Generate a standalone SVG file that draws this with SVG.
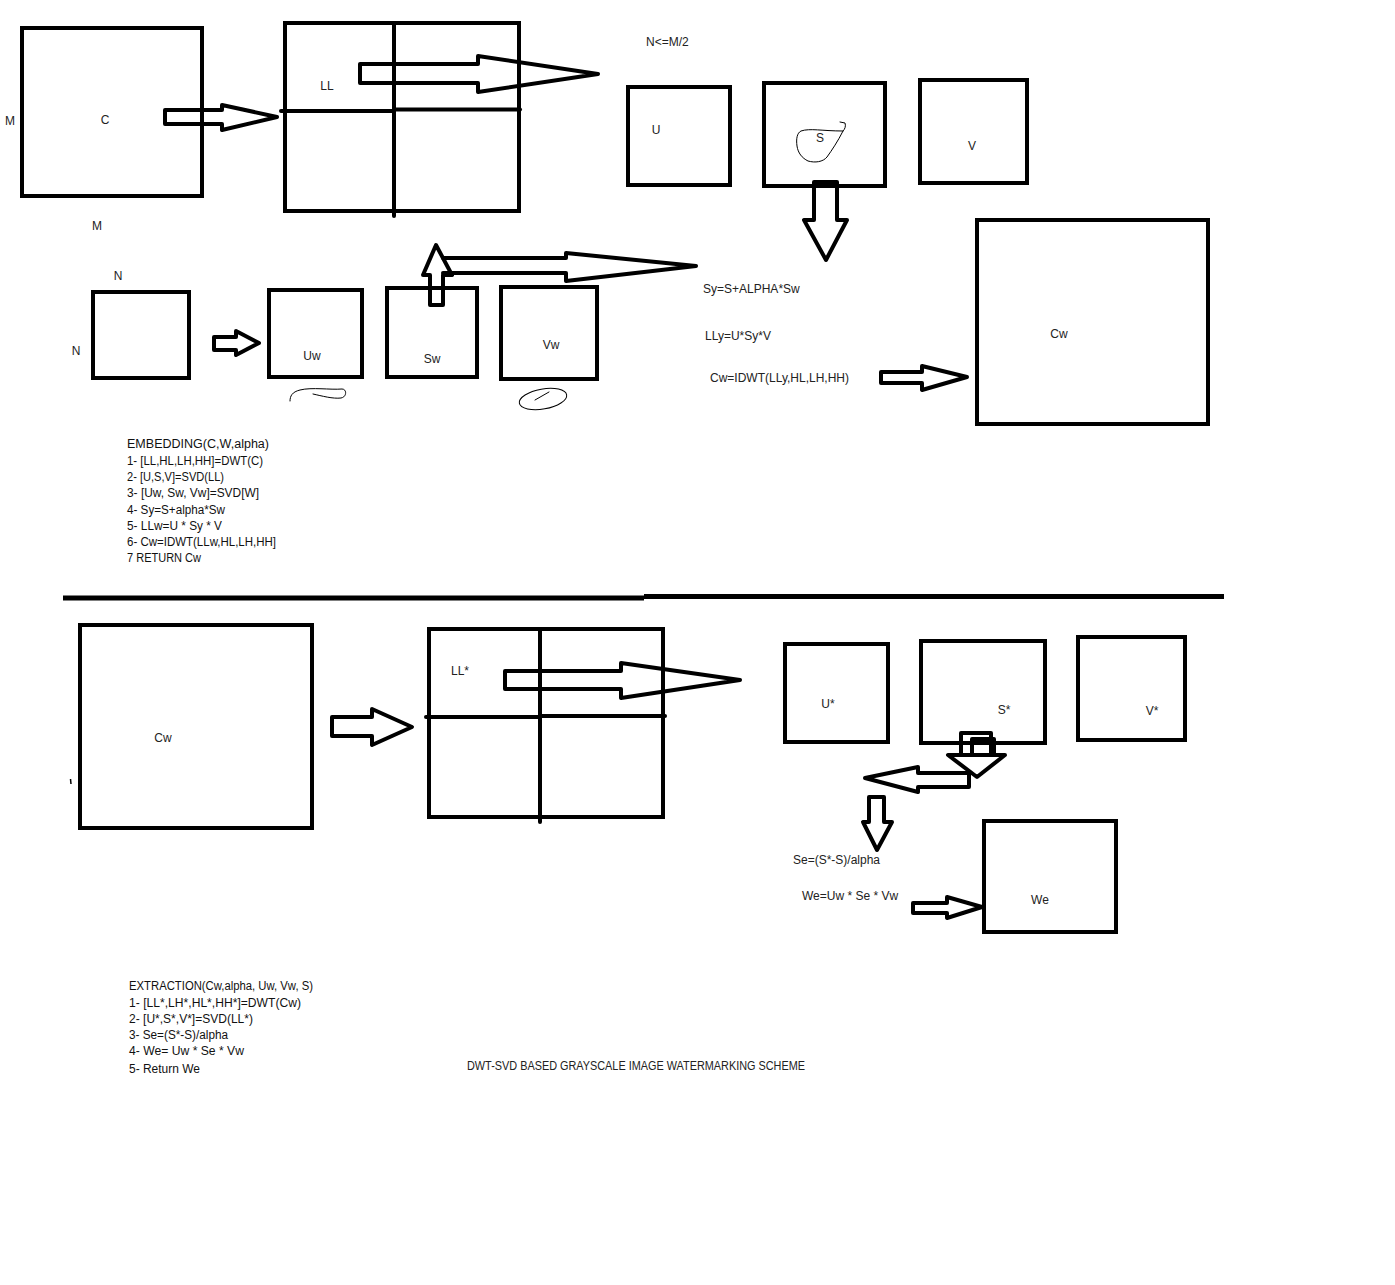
<svg xmlns="http://www.w3.org/2000/svg" width="1395" height="1285" viewBox="0 0 1395 1285">
  <style>
    .box { fill: none; stroke: #000; stroke-width: 4; }
    .div { stroke: #000; stroke-width: 4; stroke-linecap: round; }
    .arr { fill: none; stroke: #000; stroke-width: 4; stroke-linejoin: round; stroke-linecap: round; }
    .scr { fill: none; stroke: #000; stroke-width: 1; stroke-linecap: round; }
    .lbl { font-family: "Liberation Sans", Arial, sans-serif; font-size: 12px; fill: #222; }
    .alg { font-family: "Liberation Sans", Arial, sans-serif; font-size: 12.5px; fill: #111; }
    .mid { text-anchor: middle; }
  </style>
  <rect width="1395" height="1285" fill="#fff"/>

  <!-- Embedding: cover image C -->
  <g id="cover">
    <rect class="box" x="22" y="28" width="180" height="168"/>
    <text class="lbl mid" x="105" y="124">C</text>
    <text class="lbl mid" x="10" y="125">M</text>
    <text class="lbl mid" x="97" y="230">M</text>
  </g>

  <!-- Embedding: DWT sub-bands -->
  <g id="dwt">
    <rect class="box" x="285" y="23" width="234" height="188"/>
    <line class="div" x1="394" y1="23" x2="394" y2="216"/>
    <line class="div" x1="281" y1="111" x2="394" y2="111"/>
    <line class="div" x1="394" y1="109.5" x2="520" y2="109.5"/>
    <text class="lbl mid" x="327" y="90">LL</text>
  </g>

  <text class="lbl" x="646" y="46">N&lt;=M/2</text>

  <!-- Embedding: SVD of LL -->
  <g id="svd-u">
    <rect class="box" x="628" y="87" width="102" height="98"/>
    <text class="lbl mid" x="656" y="134">U</text>
  </g>
  <g id="svd-s">
    <rect class="box" x="764" y="83" width="121" height="103"/>
    <text class="lbl mid" x="820" y="142">S</text>
    <path class="scr" d="M840,122 L845,123 C846,126 845,129 843,131 C838,141 832,150 827,157 C823,162 815,163 808,161 C802,158 798,153 797,146 C796,139 797,133 801,131 C810,128 822,131 843,131"/>
  </g>
  <g id="svd-v">
    <rect class="box" x="920" y="80" width="107" height="103"/>
    <text class="lbl mid" x="972" y="150">V</text>
  </g>

  <!-- Embedding: watermark W and its SVD -->
  <g id="watermark">
    <rect class="box" x="93" y="292" width="96" height="86"/>
    <text class="lbl mid" x="118" y="280">N</text>
    <text class="lbl mid" x="76" y="355">N</text>
  </g>
  <g id="svd-uw">
    <rect class="box" x="269" y="290" width="93" height="87"/>
    <text class="lbl mid" x="312" y="360">Uw</text>
    <path class="scr" d="M290,401 C290,396 292,392 300,390 C312,387 330,390 342,389 C347,389 347,397 341,398 C333,399 322,396 313,394"/>
  </g>
  <g id="svd-sw">
    <rect class="box" x="387" y="288" width="90" height="89"/>
    <text class="lbl mid" x="432" y="363">Sw</text>
  </g>
  <g id="svd-vw">
    <rect class="box" x="501" y="287" width="96" height="92"/>
    <text class="lbl mid" x="551" y="349">Vw</text>
    <ellipse class="scr" cx="543" cy="399" rx="24" ry="10" transform="rotate(-10 543 399)"/>
    <line class="scr" x1="535" y1="400" x2="549" y2="392"/>
  </g>

  <!-- Embedding: formulas and watermarked image -->
  <g id="formulas-embed">
    <text class="lbl" x="703" y="293">Sy=S+ALPHA*Sw</text>
    <text class="lbl" x="705" y="340">LLy=U*Sy*V</text>
    <text class="lbl" x="710" y="382">Cw=IDWT(LLy,HL,LH,HH)</text>
  </g>
  <g id="watermarked">
    <rect class="box" x="977" y="220" width="231" height="204"/>
    <text class="lbl mid" x="1059" y="338">Cw</text>
  </g>

  <!-- Embedding algorithm -->
  <g id="embedding-algorithm">
    <text class="alg" x="127" y="448" textLength="142" lengthAdjust="spacingAndGlyphs">EMBEDDING(C,W,alpha)</text>
    <text class="alg" x="127" y="465" textLength="136" lengthAdjust="spacingAndGlyphs">1- [LL,HL,LH,HH]=DWT(C)</text>
    <text class="alg" x="127" y="481" textLength="97" lengthAdjust="spacingAndGlyphs">2- [U,S,V]=SVD(LL)</text>
    <text class="alg" x="127" y="497" textLength="132" lengthAdjust="spacingAndGlyphs">3- [Uw, Sw, Vw]=SVD[W]</text>
    <text class="alg" x="127" y="514" textLength="98" lengthAdjust="spacingAndGlyphs">4- Sy=S+alpha*Sw</text>
    <text class="alg" x="127" y="530" textLength="95" lengthAdjust="spacingAndGlyphs">5- LLw=U * Sy * V</text>
    <text class="alg" x="127" y="546" textLength="149" lengthAdjust="spacingAndGlyphs">6- Cw=IDWT(LLw,HL,LH,HH]</text>
    <text class="alg" x="127" y="562" textLength="74" lengthAdjust="spacingAndGlyphs">7 RETURN Cw</text>
  </g>

  <!-- Section separator -->
  <g id="separator">
    <line x1="63" y1="598" x2="644" y2="598" stroke="#000" stroke-width="5"/>
    <line x1="644" y1="596.5" x2="1224" y2="596.5" stroke="#000" stroke-width="5"/>
  </g>

  <!-- Extraction: watermarked image -->
  <g id="extract-cw">
    <rect class="box" x="80" y="625" width="232" height="203"/>
    <text class="lbl mid" x="163" y="742">Cw</text>
    <line x1="70.5" y1="779" x2="71" y2="784" stroke="#000" stroke-width="1.5"/>
  </g>

  <!-- Extraction: DWT sub-bands -->
  <g id="extract-dwt">
    <rect class="box" x="429" y="629" width="234" height="188"/>
    <line class="div" x1="540" y1="629" x2="540" y2="822"/>
    <line class="div" x1="426" y1="717" x2="540" y2="717"/>
    <line class="div" x1="540" y1="716" x2="665" y2="716"/>
    <text class="lbl mid" x="460" y="675">LL*</text>
  </g>

  <!-- Extraction: SVD of LL* -->
  <g id="svd-u-star">
    <rect class="box" x="785" y="644" width="103" height="98"/>
    <text class="lbl mid" x="828" y="708">U*</text>
  </g>
  <g id="svd-s-star">
    <rect class="box" x="921" y="641" width="124" height="102"/>
    <text class="lbl mid" x="1004" y="714">S*</text>
  </g>
  <g id="svd-v-star">
    <rect class="box" x="1078" y="637" width="107" height="103"/>
    <text class="lbl mid" x="1152" y="715">V*</text>
  </g>

  <!-- Extraction: formulas and recovered watermark -->
  <g id="formulas-extract">
    <text class="lbl" x="793" y="864">Se=(S*-S)/alpha</text>
    <text class="lbl" x="802" y="900">We=Uw * Se * Vw</text>
  </g>
  <g id="recovered">
    <rect class="box" x="984" y="821" width="132" height="111"/>
    <text class="lbl mid" x="1040" y="904">We</text>
  </g>

  <!-- Extraction algorithm -->
  <g id="extraction-algorithm">
    <text class="alg" x="129" y="990" textLength="184" lengthAdjust="spacingAndGlyphs">EXTRACTION(Cw,alpha, Uw, Vw, S)</text>
    <text class="alg" x="129" y="1007" textLength="172" lengthAdjust="spacingAndGlyphs">1- [LL*,LH*,HL*,HH*]=DWT(Cw)</text>
    <text class="alg" x="129" y="1023" textLength="124" lengthAdjust="spacingAndGlyphs">2- [U*,S*,V*]=SVD(LL*)</text>
    <text class="alg" x="129" y="1039" textLength="99" lengthAdjust="spacingAndGlyphs">3- Se=(S*-S)/alpha</text>
    <text class="alg" x="129" y="1055" textLength="115" lengthAdjust="spacingAndGlyphs">4- We= Uw * Se * Vw</text>
    <text class="alg" x="129" y="1073" textLength="71" lengthAdjust="spacingAndGlyphs">5- Return We</text>
  </g>

  <text id="title" class="lbl" x="467" y="1070" textLength="338" lengthAdjust="spacingAndGlyphs">DWT-SVD BASED GRAYSCALE IMAGE WATERMARKING SCHEME</text>

  <!-- Block arrows -->
  <g id="connectors">
    <path class="arr" d="M165,110 H222 V105 L277,117 L222,130 V124 H165 Z"/>
    <path class="arr" d="M360,64 H478 V56 L598,74 L478,92 V83 H360 Z"/>
    <path class="arr" d="M814,182 H837 V220 H847 L826,260 L804,220 H814 Z"/>
    <path class="arr" d="M214,337 H236 V331 L259,343 L236,355 V350 H214 Z"/>
    <path class="arr" d="M430,305 V275 H423 L436,245 L452,275 H443 V305 Z"/>
    <path class="arr" d="M443,258 H566 V253 L696,266 L566,281 V273 H443"/>
    <path class="arr" d="M881,372 H922 V366 L967,377 L922,390 V383 H881 Z"/>
    <path class="arr" d="M332,717 H372 V709 L412,727 L372,745 V736 H332 Z"/>
    <path class="arr" d="M505,671 H621 V663 L740,680 L621,698 V689 H505 Z"/>
    <path class="arr" d="M961,755 V733 H991 V755 M972,755 V739 H994 V755 M948,755 H1005 L977,777 Z"/>
    <path class="arr" d="M969,773 H918 V767 L865,778 L918,792 V787 H969 Z"/>
    <path class="arr" d="M869,797 H884 V822 H892 L877,850 L863,822 H869 Z"/>
    <path class="arr" d="M913,903 H947 V897 L982,907 L947,918 V913 H913 Z"/>
  </g>
</svg>
